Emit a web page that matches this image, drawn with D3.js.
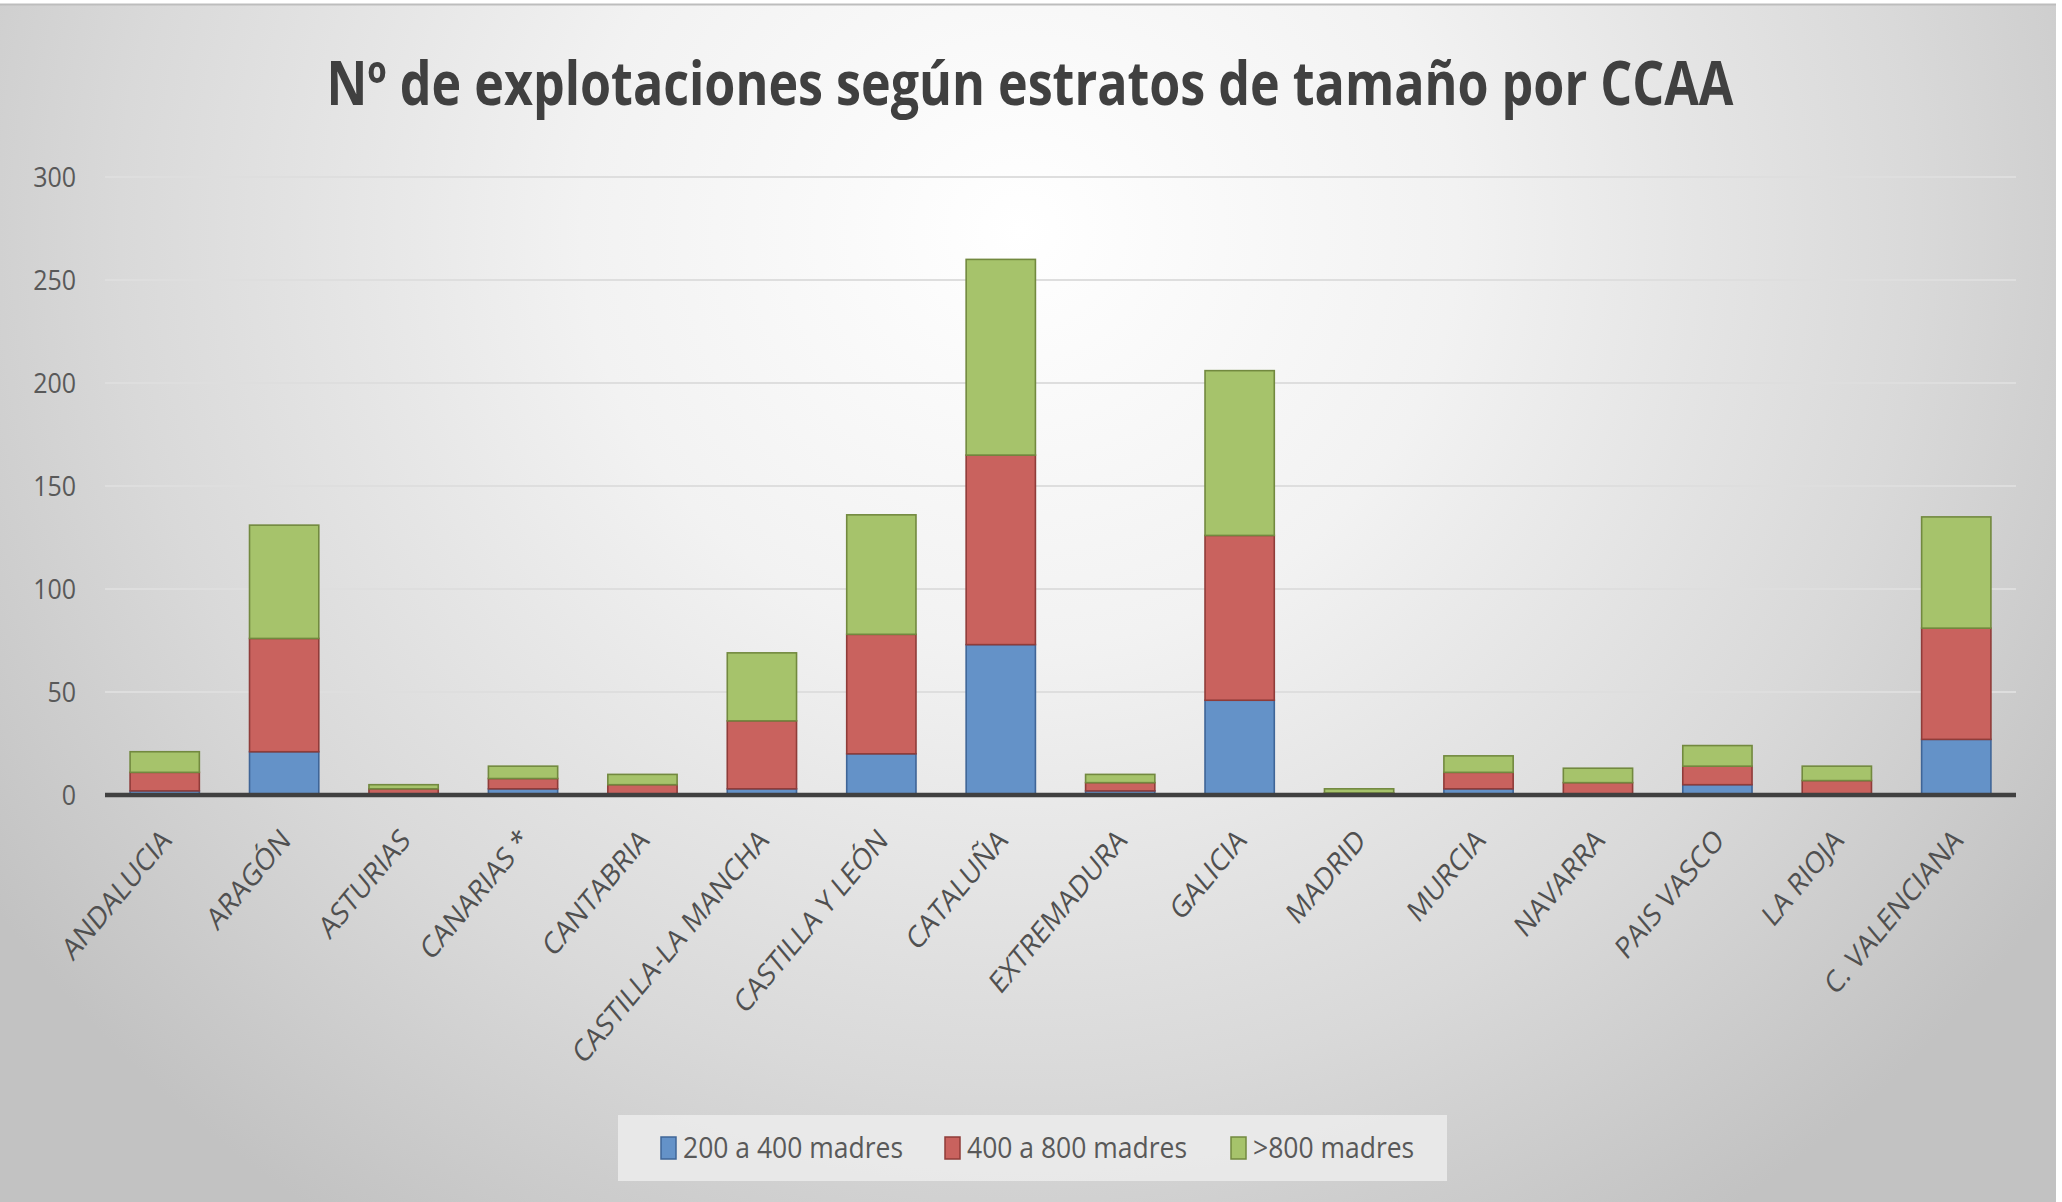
<!DOCTYPE html>
<html><head><meta charset="utf-8">
<script src="https://cdn.jsdelivr.net/npm/d3@7"></script>
<style>body{margin:0;background:#fff;} svg{display:block;}</style>
</head><body>
<svg id="chart" width="2062" height="1202"></svg>
<script>
const categories = ["ANDALUCIA","ARAGÓN","ASTURIAS","CANARIAS *","CANTABRIA","CASTILLA-LA MANCHA","CASTILLA Y LEÓN","CATALUÑA","EXTREMADURA","GALICIA","MADRID","MURCIA","NAVARRA","PAIS VASCO","LA RIOJA","C. VALENCIANA"];
const s200_400 = [2,21,0,3,0,3,20,73,2,46,0,3,0,5,0,27];
const s400_800 = [9,55,3,5,5,33,58,92,4,80,1,8,6,9,7,54];
const s800     = [10,55,2,6,5,33,58,95,4,80,2,8,7,10,7,54];
const seriesNames = ["200 a 400 madres","400 a 800 madres",">800 madres"];
const yTicks = [0,50,100,150,200,250,300];
const titleText = "Nº de explotaciones según estratos de tamaño por CCAA";

const fills = ["#6492c8","#c9625e","#a6c36b"];
const strokes = ["#3f6597","#8f3c39","#72893f"];

const W = 2062, H = 1202;
const svg = d3.select("#chart");
const defs = svg.append("defs");
const rg = defs.append("radialGradient").attr("id","bg")
  .attr("gradientUnits","userSpaceOnUse").attr("cx",1020).attr("cy",230).attr("r",1250)
  .attr("gradientTransform","translate(1020,230) scale(1,0.95) translate(-1020,-230)");
rg.append("stop").attr("offset","0").attr("stop-color","#ffffff");
rg.append("stop").attr("offset","0.35").attr("stop-color","#f2f2f2");
rg.append("stop").attr("offset","0.72").attr("stop-color","#d9d9d9");
rg.append("stop").attr("offset","1").attr("stop-color","#c2c2c2");

svg.append("rect").attr("width",W).attr("height",H).attr("fill","#ffffff");
svg.append("rect").attr("x",0).attr("y",4).attr("width",2056).attr("height",H-4).attr("fill","url(#bg)");
svg.append("line").attr("x1",0).attr("x2",2056).attr("y1",4.5).attr("y2",4.5).attr("stroke","#bdbdbd").attr("stroke-width",2);

// Title
svg.append("text").text(titleText)
  .attr("x",1030).attr("y",105).attr("text-anchor","middle")
  .attr("font-family","'Open Sans', sans-serif").attr("font-weight",700)
  .attr("font-size",60).attr("fill","#404040")
  .attr("textLength",1407).attr("lengthAdjust","spacingAndGlyphs");

const x = d3.scaleBand().domain(categories).range([105,2016]).paddingInner(0.42).paddingOuter(0.21);
const y = d3.scaleLinear().domain([0,300]).range([795,177]);

// gridlines
svg.append("g").selectAll("line").data(yTicks.filter(d=>d>0)).join("line")
  .attr("x1",105).attr("x2",2016).attr("y1",d=>y(d)).attr("y2",d=>y(d))
  .attr("stroke","#dedede").attr("stroke-width",2);

// y tick labels
svg.append("g").selectAll("text").data(yTicks).join("text")
  .text(d=>d)
  .attr("transform",d=>`translate(76,${y(d)}) scale(1,1.1)`)
  .attr("text-anchor","end").attr("dy","0.36em")
  .attr("font-family","'Open Sans', sans-serif").attr("font-size",25).attr("fill","#595959");

// stacked bars
const rows = categories.map((c,i)=>({cat:c, a:s200_400[i], b:s400_800[i], c:s800[i]}));
const stack = d3.stack().keys(["a","b","c"])(rows);
svg.append("g").selectAll("g").data(stack).join("g")
  .attr("fill",(d,i)=>fills[i]).attr("stroke",(d,i)=>strokes[i]).attr("stroke-width",1.6)
  .selectAll("rect").data(d=>d.filter(p=>p[1]-p[0]>0)).join("rect")
  .attr("x",d=>x(d.data.cat)).attr("width",x.bandwidth())
  .attr("y",d=>y(d[1])).attr("height",d=>y(d[0])-y(d[1]));

// baseline axis
svg.append("line").attr("x1",105).attr("x2",2016).attr("y1",y(0)).attr("y2",y(0))
  .attr("stroke","#404040").attr("stroke-width",4.5);

// x labels
svg.append("g").selectAll("text").data(categories).join("text")
  .text(d=>d)
  .attr("transform",d=>`translate(${x(d)+x.bandwidth()/2+8},842) scale(1,1.2) rotate(-45)`)
  .attr("text-anchor","end")
  .attr("font-family","'Open Sans', sans-serif").attr("font-size",25.5).attr("fill","#505050");

// legend
svg.append("rect").attr("x",618).attr("y",1115).attr("width",829).attr("height",66).attr("fill","#ececec").attr("opacity",0.85);
const legX = [661, 945, 1231];
const lg = svg.append("g").selectAll("g").data(seriesNames).join("g")
  .attr("transform",(d,i)=>`translate(${legX[i]},1148)`);
lg.append("rect").attr("x",0).attr("y",-11).attr("width",15).attr("height",22)
  .attr("fill",(d,i)=>fills[i]).attr("stroke",(d,i)=>strokes[i]).attr("stroke-width",1.5);
lg.append("text").text(d=>d).attr("transform","translate(22,0) scale(1,1.1)").attr("dy","0.36em")
  .attr("font-family","'Open Sans', sans-serif").attr("font-size",26.5).attr("fill","#595959");
</script>
</body></html>
